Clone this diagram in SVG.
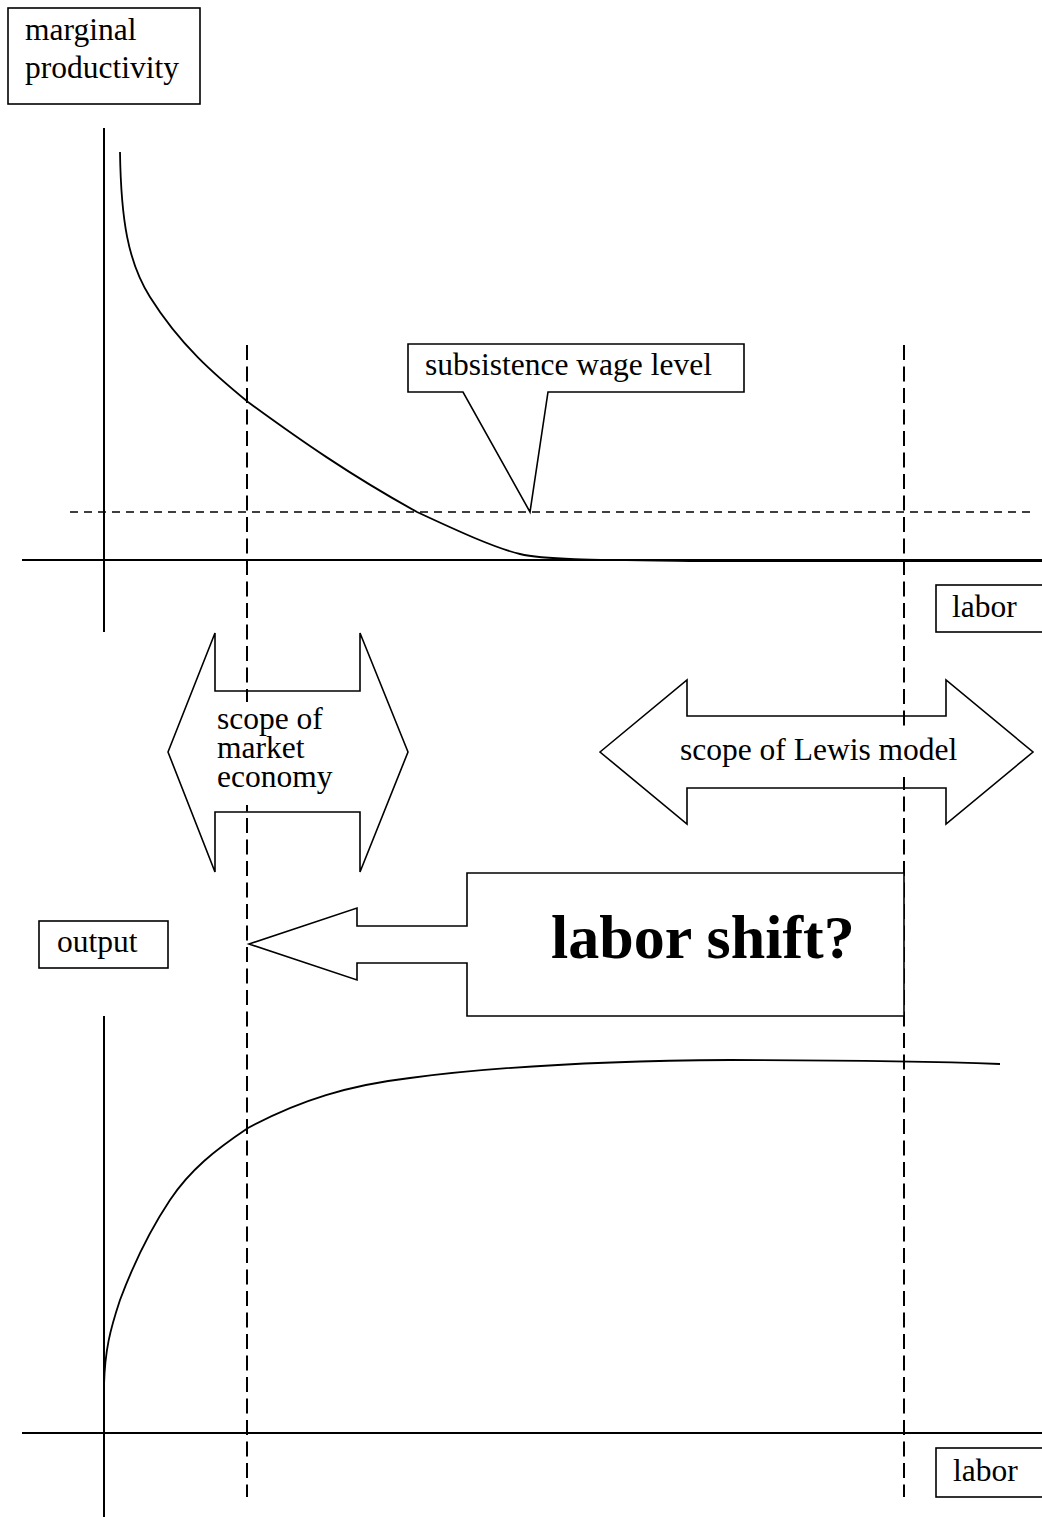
<svg xmlns="http://www.w3.org/2000/svg" width="1042" height="1517" viewBox="0 0 1042 1517">
<style>
  text { font-family: "Liberation Serif", "Times New Roman", serif; font-size: 31.5px; fill: #000; }
  .box { fill: #fff; stroke: #000; stroke-width: 1.6; }
  .shape { fill: none; stroke: #000; stroke-width: 1.6; stroke-linejoin: miter; }
  .axis { stroke: #000; stroke-width: 2; fill: none; }
  .curve { stroke: #000; stroke-width: 1.8; fill: none; }
  .vdash { stroke: #000; stroke-width: 2; stroke-dasharray: 15 6.5; fill: none; }
  .hdash { stroke: #000; stroke-width: 1.6; stroke-dasharray: 8 6; fill: none; }
  .mask { fill: #fff; stroke: none; }
</style>
<rect x="0" y="0" width="1042" height="1517" fill="#fff"/>

<g id="guides">
  <line class="vdash" x1="247" y1="345" x2="247" y2="1497"/>
  <line class="vdash" x1="904" y1="345" x2="904" y2="1497"/>
  <line class="hdash" x1="70" y1="512" x2="1032" y2="512"/>
</g>

<g id="connectors">
  <line class="axis" x1="104" y1="128" x2="104" y2="632"/>
  <line class="axis" x1="22" y1="560" x2="1042" y2="560"/>
  <line class="axis" x1="104" y1="1016" x2="104" y2="1517"/>
  <line class="axis" x1="22" y1="1433" x2="1042" y2="1433"/>
  <path class="curve" d="M120,152 C121,220 128,262 150,297 C180,345 215,375 248,402 C300,440 350,475 417,512 C460,532 495,548 520,554 C545,560 600,560 700,561 L1042,561"/>
  <path class="curve" d="M104,1433 L104,1385 C105,1350 110,1330 120,1300 C135,1260 150,1230 170,1200 C190,1170 215,1150 248,1128 C300,1100 350,1085 410,1078 C500,1066 600,1061 730,1060 C850,1060 950,1062 1000,1064"/>
</g>

<g id="node-marginal">
  <rect class="box" x="8" y="8" width="192" height="96"/>
  <text x="25" y="40">marginal</text>
  <text x="25" y="78">productivity</text>
</g>

<g id="node-subsistence">
  <path class="box" d="M408,344 L744,344 L744,392 L548,392 L530,512 L463,392 L408,392 Z"/>
  <text x="425" y="375">subsistence wage level</text>
</g>

<g id="node-labor-top">
  <rect class="box" x="936" y="585" width="110" height="47"/>
  <text x="952" y="617">labor</text>
</g>

<g id="node-market">
  <polygon class="shape" points="168,752 215,633 215,691 360,691 360,633 408,752 360,872 360,812 215,812 215,872"/>
  <rect class="mask" x="236" y="702" width="22" height="103"/>
  <text x="217" y="729">scope of</text>
  <text x="217" y="758">market</text>
  <text x="217" y="787">economy</text>
</g>

<g id="node-lewis">
  <polygon class="shape" points="600,752 687,680 687,716 946,716 946,680 1033,752 946,824 946,788 687,788 687,824"/>
  <rect class="mask" x="895" y="727" width="18" height="50"/>
  <text x="680" y="760">scope of Lewis model</text>
</g>

<g id="node-labor-shift">
  <polygon class="box" points="249,944 357,908 357,926 467,926 467,873 904,873 904,1016 467,1016 467,963 357,963 357,980"/>
  <text x="551" y="958" style="font-weight:bold;font-size:62px">labor shift?</text>
</g>

<g id="node-output">
  <rect class="box" x="39" y="921" width="129" height="47"/>
  <text x="57" y="952">output</text>
</g>

<g id="node-labor-bottom">
  <rect class="box" x="936" y="1448" width="110" height="49"/>
  <text x="953" y="1481">labor</text>
</g>
</svg>
